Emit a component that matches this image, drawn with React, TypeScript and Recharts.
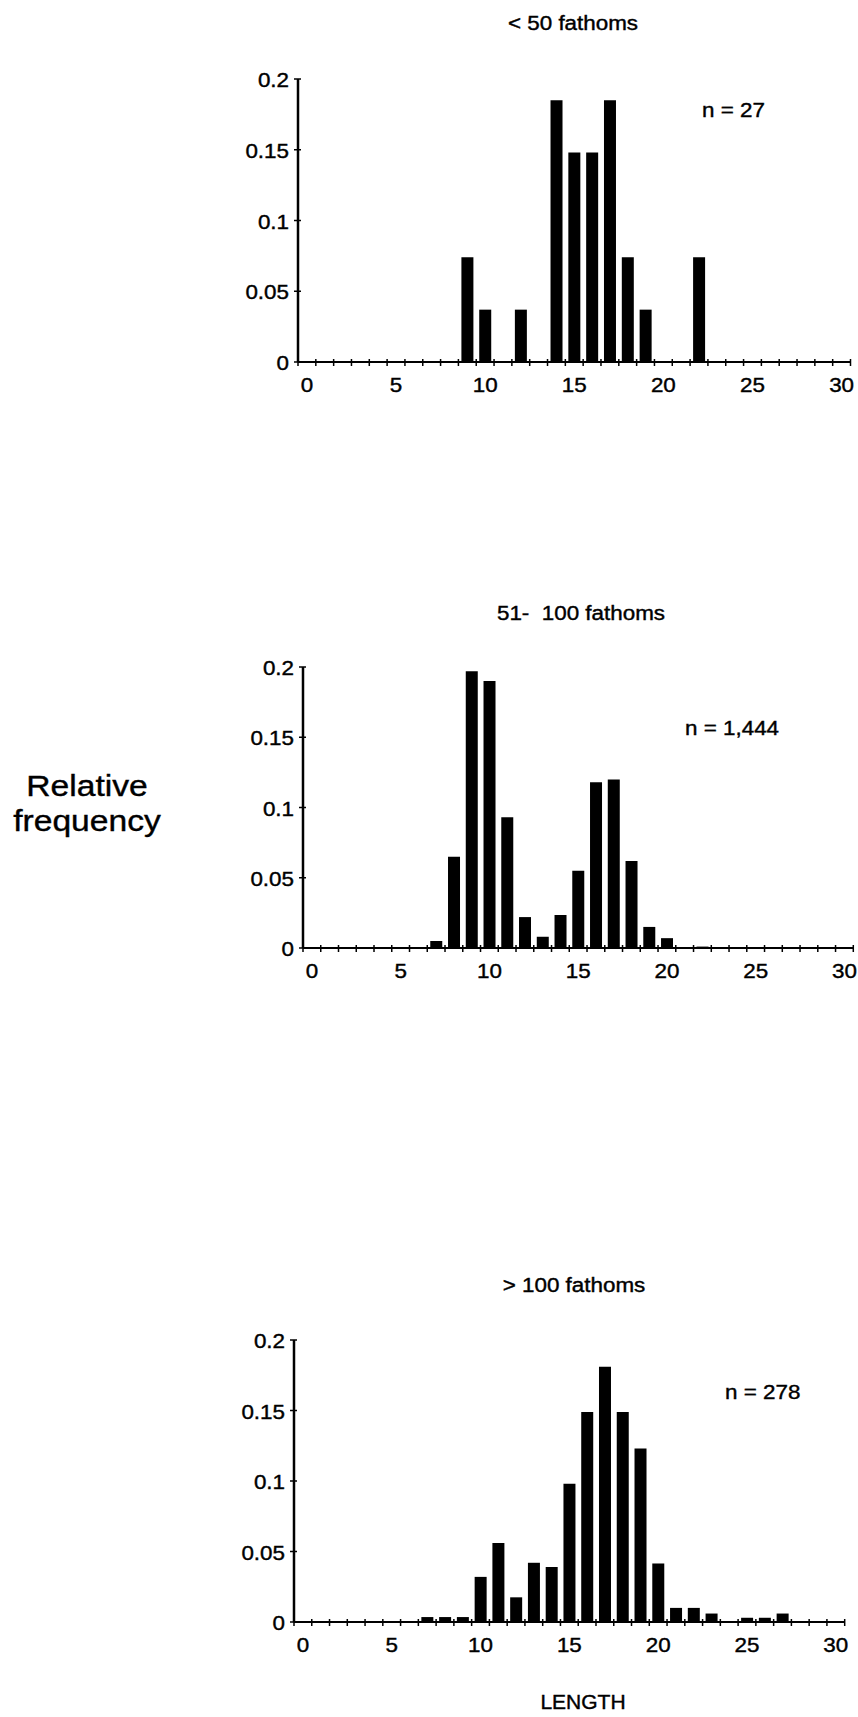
import { BarChart, Bar, XAxis, YAxis } from 'recharts'

// body length classes 0..30
const lengths = [0, 1, 2, 3, 4, 5, 6, 7, 8, 9, 10, 11, 12, 13, 14, 15, 16, 17, 18, 19, 20, 21, 22, 23, 24, 25, 26, 27, 28, 29, 30]
const freqTicks = [0, 0.05, 0.1, 0.15, 0.2]

// relative frequency by depth stratum
const shallow = [0, 0, 0, 0, 0, 0, 0, 0, 0, 0.074, 0.037, 0, 0.037, 0, 0.185, 0.148, 0.148, 0.185, 0.074, 0.037, 0, 0, 0.074, 0, 0, 0, 0, 0, 0, 0, 0]
const middle = [0, 0, 0, 0, 0, 0.0006, 0, 0.005, 0.065, 0.197, 0.19, 0.093, 0.022, 0.008, 0.0235, 0.055, 0.118, 0.12, 0.062, 0.015, 0.007, 0.0006, 0.001, 0, 0, 0, 0, 0, 0, 0, 0]
const deep = [0, 0, 0, 0, 0, 0, 0, 0.0035, 0.0035, 0.0035, 0.032, 0.056, 0.0175, 0.042, 0.039, 0.098, 0.149, 0.181, 0.149, 0.123, 0.0415, 0.01, 0.01, 0.006, 0, 0.003, 0.003, 0.006, 0, 0, 0]

const FONT = '"Liberation Sans", Arial, Helvetica, sans-serif'
const SX = 1.12 // the scan is a little wider than tall

interface PanelProps {
  values: number[]
  title: string
  nLabel: string
  axisX: number
  axisEnd: number
  top: number
  base: number
  titleX: number
  titleY: number
  nX: number
  nY: number
}

const XTick = (props: any) => {
  const { x, y, payload, band } = props
  const v = payload.value
  const left = x - band / 2
  return (
    <g>
      <line x1={left} x2={left} y1={y - 3} y2={y + 4} stroke="#000" strokeWidth={1.5} />
      {v === 30 && <line x1={x + band / 2} x2={x + band / 2} y1={y - 3} y2={y + 4} stroke="#000" strokeWidth={1.5} />}
      {v % 5 === 0 && (
        <text transform={`translate(${x},${y + 23}) scale(${SX},1)`} textAnchor="middle" dominantBaseline="central"
          fontSize={20} fontFamily={FONT} fill="#000" stroke="#000" strokeWidth={0.4}>
          {v}
        </text>
      )}
    </g>
  )
}

const YTick = (props: any) => {
  const { x, y, payload } = props
  const v = payload.value
  return (
    <g>
      <line x1={x - 4} x2={x + 3} y1={y} y2={y} stroke="#000" strokeWidth={1.5} />
      <text transform={`translate(${x - 9},${y + 1}) scale(${SX},1)`} textAnchor="end" dominantBaseline="central"
        fontSize={20} fontFamily={FONT} fill="#000" stroke="#000" strokeWidth={0.4}>
        {v === 0 ? '0' : String(v)}
      </text>
    </g>
  )
}

const textStyle = {
  position: 'absolute' as const,
  fontFamily: FONT,
  lineHeight: 1,
  whiteSpace: 'pre' as const,
  color: '#000',
  WebkitTextStroke: '0.4px #000',
}

function Panel({ values, title, nLabel, axisX, axisEnd, top, base, titleX, titleY, nX, nY }: PanelProps) {
  const data = lengths.map((len, i) => ({ len, freq: values[i] }))
  const yw = 80
  const mt = 10
  const xh = 45
  const mr = 4
  const plotW = axisEnd - axisX
  const band = plotW / lengths.length
  const width = yw + plotW + mr
  const height = mt + (base - top) + xh
  return (
    <>
      <div style={{ ...textStyle, left: titleX, top: titleY, fontSize: 20, transform: `translate(-50%, -50%) scaleX(${SX})` }}>
        {title}
      </div>
      <div style={{ ...textStyle, left: nX, top: nY, fontSize: 20, transformOrigin: 'left center', transform: `translateY(-50%) scaleX(${SX})` }}>
        {nLabel}
      </div>
      <div style={{ position: 'absolute', left: axisX - yw, top: top - mt }}>
        <BarChart width={width} height={height} data={data} margin={{ top: mt, right: mr, left: 0, bottom: 0 }}>
          <XAxis dataKey="len" type="category" ticks={lengths} interval={0}
            height={xh} tickSize={0} tickMargin={0} tickLine={false}
            axisLine={{ stroke: '#000', strokeWidth: 2 }}
            tick={(p: any) => <XTick {...p} band={band} />} />
          <YAxis type="number" domain={[0, 0.2]} ticks={freqTicks} interval={0}
            width={yw} tickSize={0} tickMargin={0} tickLine={false}
            axisLine={{ stroke: '#000', strokeWidth: 2.5 }}
            tick={(p: any) => <YTick {...p} />} />
          <Bar dataKey="freq" fill="#000" barSize={12} isAnimationActive={false} />
        </BarChart>
      </div>
    </>
  )
}

export default function App() {
  return (
    <div style={{ position: 'absolute', left: 0, top: 0, width: 858, height: 1717, background: '#fff', overflow: 'hidden' }}>
      <Panel values={shallow} title="< 50 fathoms" nLabel="n = 27"
        axisX={297.5} axisEnd={850} top={79} base={362} titleX={573} titleY={23} nX={702} nY={110} />
      <Panel values={middle} title="51-  100 fathoms" nLabel="n = 1,444"
        axisX={302.7} axisEnd={853} top={667} base={948} titleX={581} titleY={613} nX={685} nY={728} />
      <Panel values={deep} title="> 100 fathoms" nLabel="n = 278"
        axisX={294.3} axisEnd={845} top={1340} base={1622} titleX={574} titleY={1285} nX={725} nY={1392} />
      <div style={{
        ...textStyle, left: 87, top: 803, fontSize: 30, lineHeight: '35px', textAlign: 'center',
        transform: `translate(-50%, -50%) scaleX(${SX})`,
      }}>Relative<br />frequency</div>
      <div style={{ ...textStyle, left: 583, top: 1702, fontSize: 20, transform: 'translate(-50%, -50%) scaleX(1.05)' }}>
        LENGTH
      </div>
    </div>
  )
}
